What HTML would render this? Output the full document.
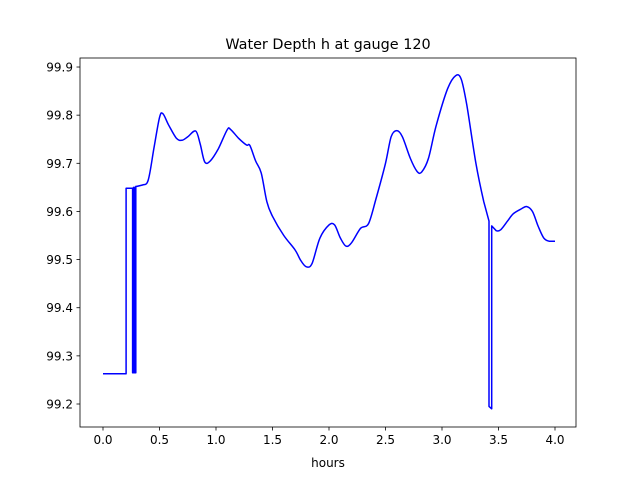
<!DOCTYPE html>
<html><head><meta charset="utf-8"><style>
body{margin:0;background:#fff;}
svg text{font-family:"DejaVu Sans","Liberation Sans",sans-serif;font-size:12px;fill:#000;}
</style></head><body>
<svg id="chart" width="640" height="480">
<rect x="0" y="0" width="640" height="480" fill="#fff"/>
<text x="328" y="49" text-anchor="middle" style="font-size:14.4px">Water Depth h at gauge 120</text>
<text x="328" y="467" text-anchor="middle">hours</text>
<g id="axes"></g>
</svg>
<script>
const hours=[0,0.204,0.204,0.262,0.262,0.27,0.27,0.28,0.28,0.29,0.29,0.30,0.30,0.35,0.4,0.45,0.5,0.53,0.58,0.65,0.7,0.75,0.82,0.86,0.9,0.95,1.02,1.1,1.13,1.2,1.27,1.3,1.35,1.4,1.45,1.5,1.6,1.7,1.75,1.8,1.85,1.92,2.0,2.05,2.1,2.15,2.2,2.28,2.35,2.42,2.5,2.55,2.6,2.65,2.72,2.78,2.82,2.88,2.95,3.05,3.12,3.17,3.22,3.3,3.37,3.416,3.416,3.44,3.44,3.48,3.52,3.58,3.63,3.7,3.75,3.8,3.85,3.9,3.95,4.0];
const depth=[99.263,99.263,99.648,99.648,99.265,99.265,99.65,99.65,99.265,99.265,99.652,99.652,99.652,99.655,99.665,99.73,99.795,99.803,99.78,99.752,99.748,99.755,99.767,99.74,99.703,99.705,99.73,99.77,99.77,99.752,99.738,99.737,99.705,99.68,99.62,99.59,99.55,99.52,99.498,99.485,99.492,99.545,99.572,99.572,99.545,99.528,99.535,99.565,99.575,99.63,99.70,99.755,99.768,99.755,99.71,99.683,99.682,99.71,99.78,99.855,99.882,99.875,99.82,99.70,99.62,99.58,99.195,99.19,99.57,99.56,99.562,99.58,99.595,99.605,99.61,99.6,99.57,99.545,99.538,99.538];
const xTicks=[0,0.5,1,1.5,2,2.5,3,3.5,4];
const xTickLabels=["0.0","0.5","1.0","1.5","2.0","2.5","3.0","3.5","4.0"];
const yTicks=[99.2,99.3,99.4,99.5,99.6,99.7,99.8,99.9];
const yTickLabels=["99.2","99.3","99.4","99.5","99.6","99.7","99.8","99.9"];
const NS="http://www.w3.org/2000/svg";
const g=document.getElementById('axes');
const X=v=>103+v*113;
const Y=v=>404-(v-99.2)*481.4;
function mk(t,a){const e=document.createElementNS(NS,t);for(const k in a)e.setAttribute(k,a[k]);g.appendChild(e);return e;}
const P=hours.map((h,i)=>[X(h),Y(depth[i])]);
let d='M'+P[0][0].toFixed(1)+' '+P[0][1].toFixed(1);
for(let i=0;i<P.length-1;i++){
  const p1=P[i],p2=P[i+1];
  const p0=P[i-1]||p1,p3=P[i+2]||p2;
  const vert=Math.abs(p1[0]-p2[0])<0.5||Math.abs(p0[0]-p1[0])<0.5||Math.abs(p2[0]-p3[0])<0.5;
  if(vert){d+=' L'+p2[0].toFixed(1)+' '+p2[1].toFixed(1);continue;}
  const c1=[p1[0]+(p2[0]-p0[0])/6,p1[1]+(p2[1]-p0[1])/6];
  const c2=[p2[0]-(p3[0]-p1[0])/6,p2[1]-(p3[1]-p1[1])/6];
  d+=' C'+c1[0].toFixed(1)+' '+c1[1].toFixed(1)+' '+c2[0].toFixed(1)+' '+c2[1].toFixed(1)+' '+p2[0].toFixed(1)+' '+p2[1].toFixed(1);
}
const line=mk('path',{d:d,fill:'none',stroke:'#0000ff','stroke-width':1.5,'stroke-linejoin':'round'});


const frame=mk('rect',{x:80,y:58,width:496,height:369,fill:'none',stroke:'#000','stroke-width':0.8});


xTicks.forEach((v,i)=>{
  const t=mk('line',{x1:X(v),x2:X(v),y1:427,y2:430.5,stroke:'#000','stroke-width':0.8});
  
  
  const l=mk('text',{x:X(v),y:444,'text-anchor':'middle'});l.textContent=xTickLabels[i];
  
  
});
yTicks.forEach((v,i)=>{
  const t=mk('line',{x1:76.5,x2:80,y1:Y(v),y2:Y(v),stroke:'#000','stroke-width':0.8});
  
  
  const l=mk('text',{x:73,y:Y(v)+4.5,'text-anchor':'end'});l.textContent=yTickLabels[i];
  
  
});
</script>
</body></html>
